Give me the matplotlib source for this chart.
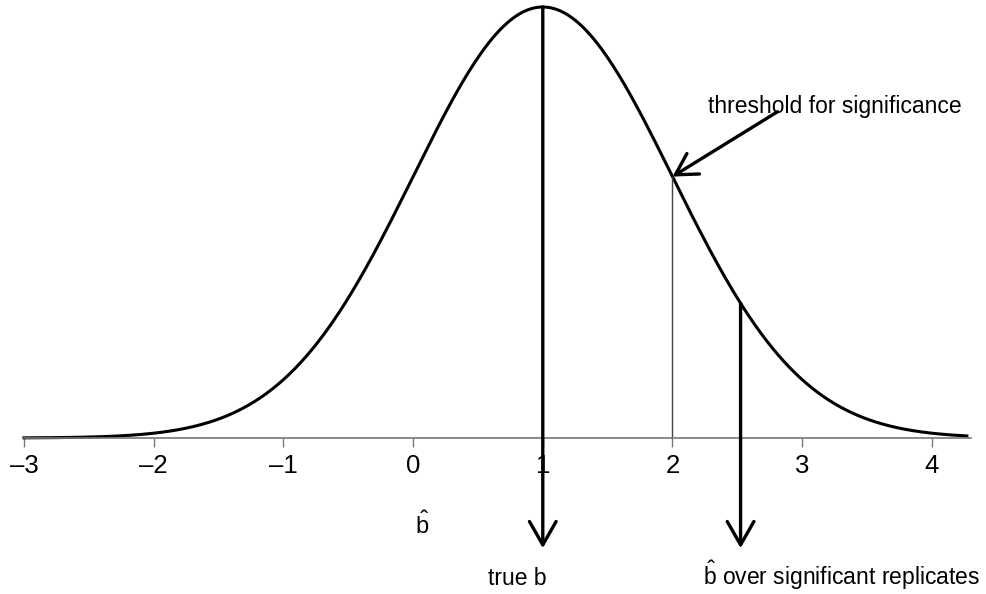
import numpy as np
import matplotlib.pyplot as plt

plt.rcParams['font.family'] = ['Liberation Sans', 'DejaVu Sans']
plt.rcParams['mathtext.fontset'] = 'custom'
plt.rcParams['mathtext.rm'] = 'Liberation Sans'

# normal density of b-hat, mean = true b
true_b = 1.0
sd_b = 1.0
threshold = 2.0
mean_sig = 2.525          # mean of b-hat over significant replicates
x_range = [-3.0, 4.27]
tick_vals = [-3, -2, -1, 0, 1, 2, 3, 4]

def dens(x):
    return np.exp(-0.5 * ((x - true_b) / sd_b) ** 2) / (sd_b * np.sqrt(2 * np.pi))

fig = plt.figure(figsize=(9.87, 5.94), dpi=100)
ax = fig.add_axes([0, 0, 1, 1])

xs = np.linspace(x_range[0], x_range[1], 500)
ax.plot(xs, dens(xs), color='black', lw=2.2)

# thin line at threshold
ax.plot([threshold, threshold], [0, dens(threshold)], color='#444444', lw=1.0)

arrow_kw = dict(arrowstyle='->,head_length=0.42,head_width=0.24', color='black', lw=2.4,
                mutation_scale=40, shrinkA=0, shrinkB=0)
ax.annotate('', xy=(true_b, -0.102), xytext=(true_b, dens(true_b)), arrowprops=arrow_kw)
ax.annotate('', xy=(mean_sig, -0.102), xytext=(mean_sig, dens(mean_sig)), arrowprops=arrow_kw)
ax.annotate('', xy=(threshold, dens(threshold)), xytext=(2.81, 0.302),
            arrowprops=dict(arrowstyle='->,head_length=0.42,head_width=0.24', color='black',
                            lw=2.4, mutation_scale=36, shrinkA=0, shrinkB=0))

ax.text(2.274, 0.301, 'threshold for significance', fontsize=16.5, ha='left', va='baseline')
ax.text(0.578, -0.136, 'true b', fontsize=16.5, ha='left', va='baseline')
ax.text(0.069, -0.089, r'$\hat{\mathrm{b}}$', fontsize=17, ha='center', va='baseline')
ax.text(2.235, -0.136, r'$\hat{\mathrm{b}}$' + ' over significant replicates', fontsize=16.5,
        ha='left', va='baseline')

ax.set_xlim(-3.185, 4.425)
ax.set_ylim(-0.1444, 0.4054)

for s in ['top', 'right', 'left']:
    ax.spines[s].set_visible(False)
ax.spines['bottom'].set_position(('data', 0))
ax.spines['bottom'].set_bounds(-3, 4.3)
ax.spines['bottom'].set_color('#777777')
ax.spines['bottom'].set_linewidth(1.2)
ax.set_yticks([])
ax.set_xticks(tick_vals)
ax.set_xticklabels([str(t).replace('-', '\u2013') for t in tick_vals])
ax.tick_params(axis='x', length=6.5, width=1, color='#777777', pad=5, labelsize=18.5)

fig.savefig('out.png', dpi=100, facecolor='white')
